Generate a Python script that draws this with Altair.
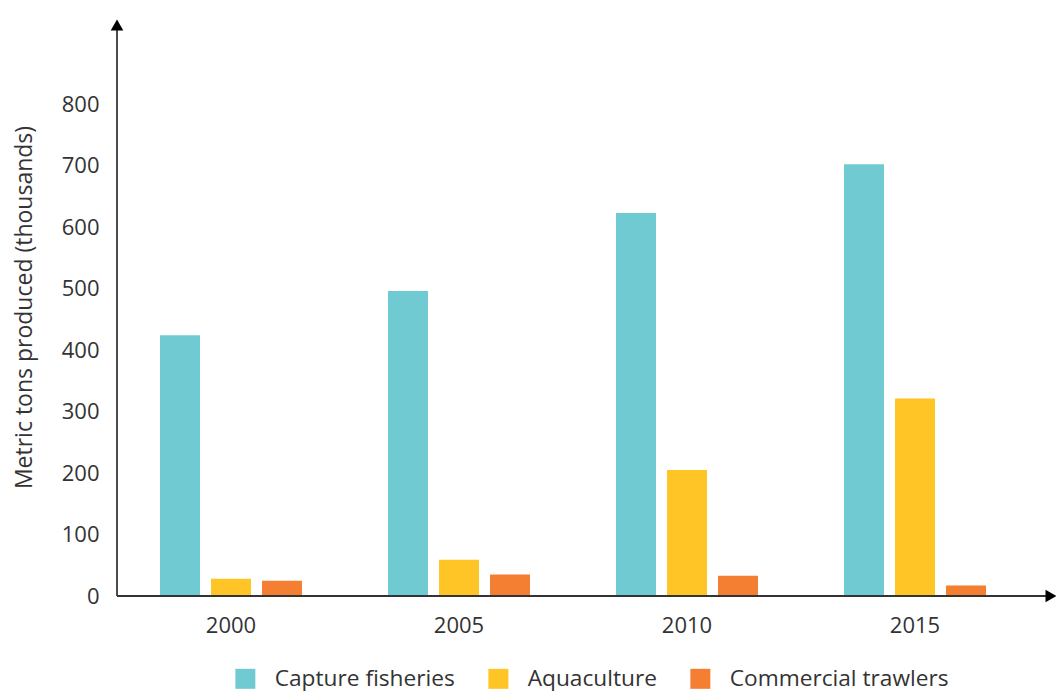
import altair as alt
import pandas as pd

# Production by source, thousands of metric tons
years = ["2000", "2005", "2010", "2015"]
capture_fisheries = [424, 496, 623, 702]
aquaculture = [28, 59, 205, 321]
commercial_trawlers = [25, 35, 33, 17]

series_names = ["Capture fisheries", "Aquaculture", "Commercial trawlers"]
series_colors = ["#6FCBD1", "#FFC425", "#F47F33"]

rows = []
for name, vals in zip(series_names, [capture_fisheries, aquaculture, commercial_trawlers]):
    for yr, v in zip(years, vals):
        rows.append({"year": yr, "source": name, "value": v})
df = pd.DataFrame(rows)

W, H = 939, 578
FONT = "Open Sans"
TEXT = "#333333"

bars = alt.Chart(df).mark_bar().encode(
    x=alt.X(
        "year:N",
        sort=years,
        scale=alt.Scale(range=[0, 912], paddingInner=0, paddingOuter=0),
        axis=alt.Axis(
            title=None, domain=False, ticks=False, labelAngle=0,
            labelFont=FONT, labelFontSize=22, labelColor=TEXT, labelPadding=19,
        ),
    ),
    xOffset=alt.XOffset(
        "source:N", sort=series_names,
        scale=alt.Scale(paddingInner=0.216, paddingOuter=0.843),
    ),
    y=alt.Y(
        "value:Q",
        scale=alt.Scale(domain=[0, 940], nice=False),
        axis=alt.Axis(
            title="Metric tons produced (thousands)", values=[0, 100, 200, 300, 400, 500, 600, 700, 800],
            domain=False, ticks=False, grid=False,
            labelFont=FONT, labelFontSize=22, labelColor=TEXT, labelPadding=18,
            titleFont=FONT, titleFontSize=23, titleFontWeight="normal", titleColor=TEXT,
            titlePadding=25,
        ),
    ),
    color=alt.Color(
        "source:N", sort=series_names,
        scale=alt.Scale(domain=series_names, range=series_colors),
        legend=alt.Legend(
            title=None, orient="none", direction="horizontal", legendX=117, legendY=649,
            symbolType="square", symbolSize=400, symbolStrokeWidth=0,
            labelFont=FONT, labelFontSize=22.7, labelColor=TEXT, labelOffset=18,
            labelLimit=0, columnPadding=32,
        ),
    ),
)

# Axis lines with arrowheads
axis_df = pd.DataFrame({"k": [0]})
y_line = alt.Chart(axis_df).mark_rule(color="#111111", strokeWidth=1.5).encode(
    x=alt.value(0), y=alt.value(8), y2=alt.value(H)
)
x_line = alt.Chart(axis_df).mark_rule(color="#333333", strokeWidth=2).encode(
    x=alt.value(0), x2=alt.value(W - 8), y=alt.value(H)
)
y_arrow = alt.Chart(axis_df).mark_point(
    shape="triangle-up", filled=True, color="#000000", size=160, opacity=1
).encode(x=alt.value(0), y=alt.value(7))
x_arrow = alt.Chart(axis_df).mark_point(
    shape="triangle-right", filled=True, color="#000000", size=160, opacity=1
).encode(x=alt.value(W - 5), y=alt.value(H))

chart = alt.layer(bars, y_line, x_line, y_arrow, x_arrow).properties(
    width=W, height=H,
    autosize=alt.AutoSizeParams(type="none"),
    padding={"left": 117, "top": 18, "right": 0, "bottom": 99},
    background="white",
).configure_view(stroke=None)

chart.save("out.html", embed_options={"renderer": "svg", "actions": False})
